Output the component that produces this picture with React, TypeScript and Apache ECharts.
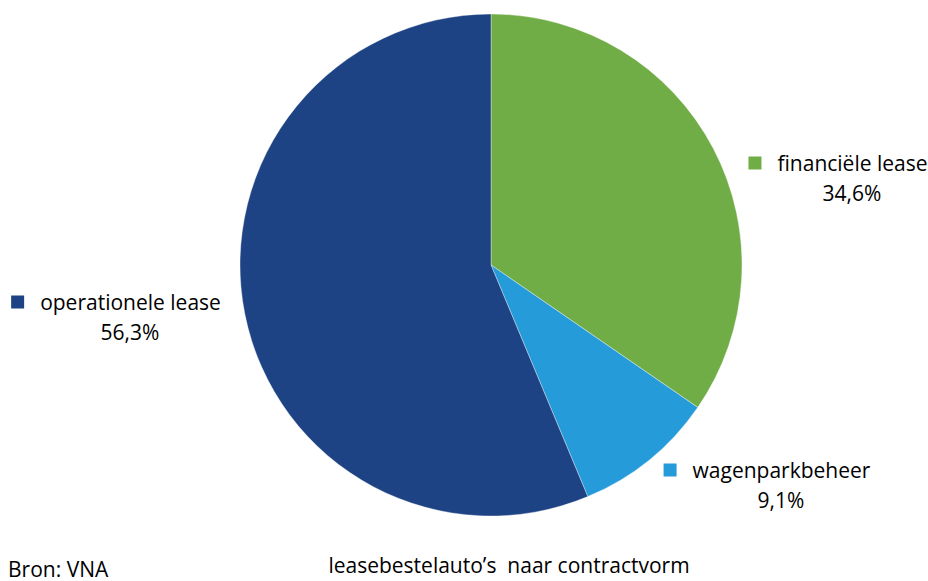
import React, { useEffect, useRef } from "react";
import * as echarts from "echarts";

const categories = ["financiële lease", "wagenparkbeheer", "operationele lease"];
const values = [34.6, 9.1, 56.3];
const colors = ["#70AD47", "#259BDA", "#1D4384"];
const title = "leasebestelauto\u2019s  naar contractvorm";
const source = "Bron: VNA";

// label block centres (layout only)
const labelSpots = [
  [838, 178],
  [767, 485],
  [116, 317],
];

const FONT = "'Open Sans', 'Noto Sans', sans-serif";
const FS = 21;

export default function App() {
  const ref = useRef<HTMLDivElement>(null);
  useEffect(() => {
    document.body.style.margin = "0";
    if (!ref.current) return;
    const chart = echarts.init(ref.current, null, { renderer: "svg" });
    chart.setOption({
      animation: false,
      backgroundColor: "#ffffff",
      graphic: [
        {
          type: "text",
          x: 509,
          y: 554,
          style: { text: title, font: `${FS}px ${FONT}`, fill: "#000", align: "center", verticalAlign: "top" },
        },
        {
          type: "text",
          left: 8,
          top: 558,
          style: { text: source, font: `${FS}px ${FONT}`, fill: "#000" },
        },
      ],
      series: [
        {
          type: "pie",
          center: [491, 265],
          radius: 251,
          startAngle: 90,
          clockwise: true,
          itemStyle: { borderColor: "rgba(255,255,255,0.6)", borderWidth: 0.6 },
          emphasis: { disabled: true },
          labelLine: { show: false },
          label: {
            show: true,
            position: "outside",
            alignTo: "none",
            overflow: "none",
            width: 400,
            formatter: (p: any) =>
              `{sq${p.dataIndex}|}{gap|}{nm|${p.name}}\n{val|${String(p.value).replace(".", ",")}%}`,
            rich: {
              sq0: { width: 13, height: 13, backgroundColor: colors[0] },
              sq1: { width: 13, height: 13, backgroundColor: colors[1] },
              sq2: { width: 13, height: 13, backgroundColor: colors[2] },
              gap: { width: 16 },
              nm: { fontSize: FS, fontFamily: FONT, color: "#000", lineHeight: 30 },
              val: { fontSize: FS, fontFamily: FONT, color: "#000", lineHeight: 30, padding: [0, 0, 0, 28] },
            },
          },
          labelLayout: (params: any) => ({
            x: labelSpots[params.dataIndex][0],
            y: labelSpots[params.dataIndex][1],
            align: "center",
            verticalAlign: "middle",
          }),
          data: categories.map((c, i) => ({
            name: c,
            value: values[i],
            itemStyle: { color: colors[i] },
          })),
        },
      ],
    });
    return () => chart.dispose();
  }, []);
  return <div ref={ref} style={{ width: 928, height: 581 }} />;
}
